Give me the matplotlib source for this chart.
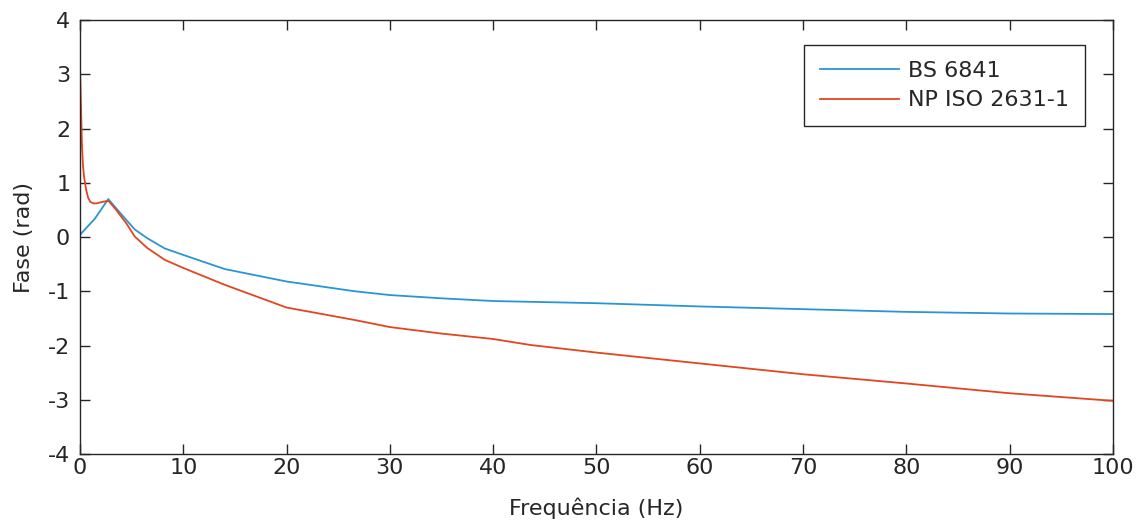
import numpy as np
import matplotlib
matplotlib.use('Agg')
import matplotlib.pyplot as plt

plt.rcParams['font.family'] = ['DejaVu Sans']
plt.rcParams['axes.unicode_minus'] = False

# BS 6841 phase response
freq_bs = [0, 1.45, 2.74, 4, 5.3, 6.5, 8.2, 10, 14, 20, 26.6, 30, 35, 40,
           45, 50, 60, 70, 80, 90, 100]
fase_bs = [0.04, 0.34, 0.70, 0.42, 0.14, -0.02, -0.21, -0.33, -0.59, -0.82,
           -1.0, -1.07, -1.13, -1.18, -1.20, -1.22, -1.28, -1.33, -1.38,
           -1.41, -1.42]

# NP ISO 2631-1 phase response
freq_iso = [0, 0.1, 0.2, 0.3, 0.4, 0.6, 0.8, 1.0, 1.3, 1.6, 2.0, 2.5, 2.8,
            3.5, 4.5, 5.3, 6.5, 8.2, 10, 14, 20, 26.6, 30, 35, 40, 43.6, 50,
            60, 70, 80, 90, 100]
fase_iso = [3.14, 2.40, 1.66, 1.30, 1.11, 0.87, 0.72, 0.65, 0.62, 0.62, 0.64,
            0.66, 0.66, 0.50, 0.25, 0.01, -0.20, -0.42, -0.57, -0.88, -1.30,
            -1.53, -1.66, -1.78, -1.88, -1.99, -2.13, -2.33, -2.53, -2.70,
            -2.88, -3.02]

fs = 16

fig = plt.figure(figsize=(11.39, 5.2), dpi=100)
ax = fig.add_axes([0.0702, 0.1269, 0.907, 0.8346])

ax.plot(freq_bs, fase_bs, color='#2a95d5', lw=1.3, label='BS 6841')
ax.plot(freq_iso, fase_iso, color='#e2451f', lw=1.3, label='NP ISO 2631-1')

ax.set_xlim(0, 100)
ax.set_ylim(-4, 4)
ax.set_xticks(np.arange(0, 101, 10))
ax.set_yticks(np.arange(-4, 5, 1))
ax.tick_params(direction='in', length=7, width=1, top=True, right=True,
               labelsize=fs, colors='#262626')
ax.tick_params(axis='y', pad=7)
ax.tick_params(axis='x', pad=3)
for s in ax.spines.values():
    s.set_linewidth(1)
    s.set_color('#262626')

ax.set_xlabel('Frequência (Hz)', fontsize=fs, labelpad=14, color='#262626')
ax.set_ylabel('Fase (rad)', fontsize=fs, labelpad=10, color='#262626')

leg = ax.legend(loc='upper right', bbox_to_anchor=(0.973, 0.942),
                fontsize=fs, handlelength=3.55, fancybox=False,
                framealpha=1, edgecolor='#262626', borderpad=0.72,
                labelspacing=0.41, handletextpad=0.4, borderaxespad=0)
leg.get_frame().set_linewidth(1)
for t in leg.get_texts():
    t.set_color('#262626')

fig.savefig('out.png', dpi=100)
